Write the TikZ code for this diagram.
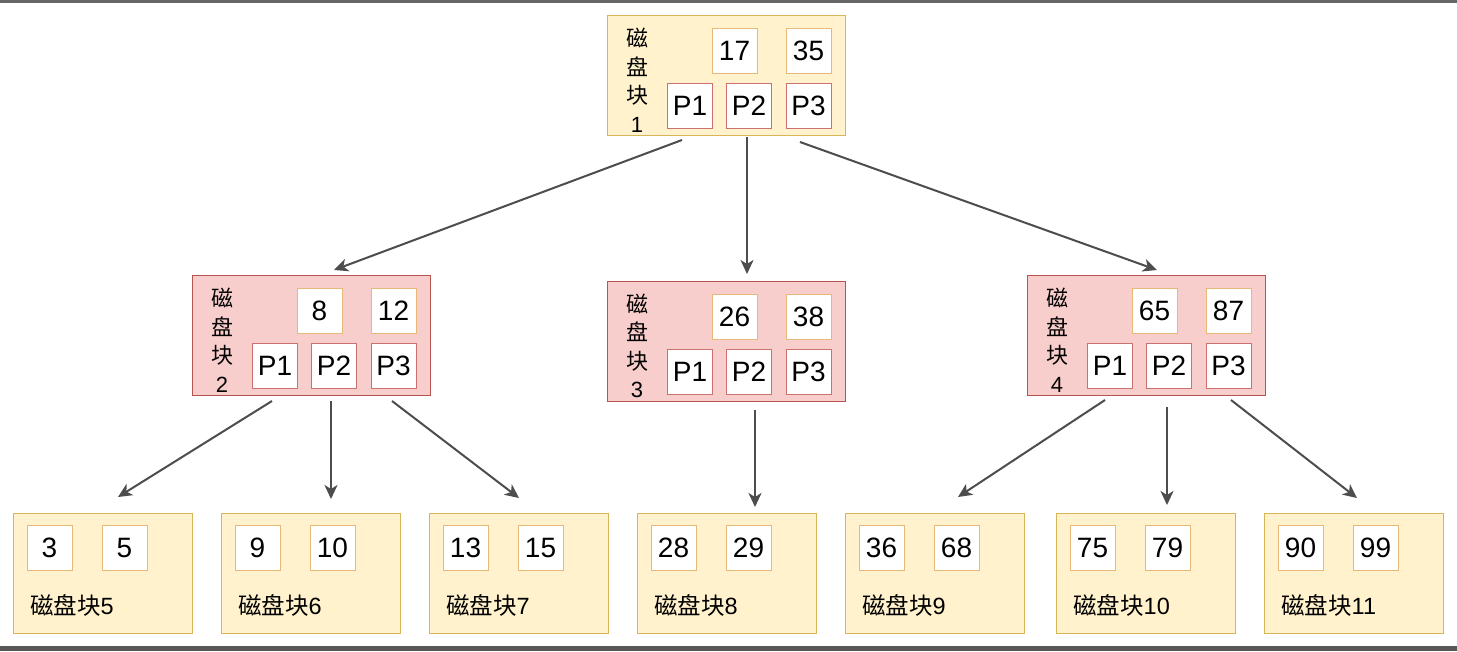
\documentclass[tikz,border=0pt]{standalone}
\usepackage{fontspec}
\setmainfont{Liberation Sans}
\newfontfamily\cjk{Noto Sans CJK SC}
\usetikzlibrary{arrows.meta}
\definecolor{yfill}{HTML}{FFF2CC}
\definecolor{ydraw}{HTML}{D6B656}
\definecolor{rfill}{HTML}{F8CECC}
\definecolor{rdraw}{HTML}{B85450}
\definecolor{kdraw}{HTML}{E8B878}
\definecolor{pdraw}{HTML}{CC7070}
\definecolor{arr}{HTML}{4D4D4D}
\definecolor{bar}{HTML}{666666}
\tikzset{
  x=1pt, y=-1pt,
  blk/.style={draw, line width=1pt, minimum width=238pt, minimum height=120pt, inner sep=0pt},
  yblk/.style={blk, fill=yfill, draw=ydraw},
  rblk/.style={blk, fill=rfill, draw=rdraw},
  leaf/.style={draw=ydraw, fill=yfill, line width=1pt, minimum width=179pt, minimum height=120pt, inner sep=0pt},
  cell/.style={fill=white, line width=1pt, minimum width=45pt, minimum height=45pt, inner sep=0pt, font=\fontsize{28}{28}\selectfont},
  key/.style={cell, draw=kdraw},
  ptr/.style={cell, draw=pdraw},
  vlab/.style={align=center, inner sep=0pt, font=\fontsize{22}{28.5}\selectfont},
  llab/.style={anchor=west, inner sep=0pt, font=\fontsize{23.5}{23.5}\selectfont},
  link/.style={draw=arr, line width=2pt, -{Stealth[length=14pt,width=13pt,inset=4pt]}},
}
\begin{document}
\begin{tikzpicture}
\useasboundingbox (0,0) rectangle (1457,651);
\fill[white] (0,0) rectangle (1457,651);
\fill[bar] (0,0) rectangle (1457,3);
\fill[bar!85!black] (0,646) rectangle (1457,651);

% internal blocks: name / left / top / fill style / keys / label
\foreach \n/\L/\T/\s/\ka/\kb/\lab in {n1/607/15/yblk/17/35/1, n2/192/275/rblk/8/12/2, n3/607/281/rblk/26/38/3, n4/1027/275/rblk/65/87/4}{
  \node[\s] (\n) at (\L+119,\T+60) {};
  \node[key] (\n ka) at (\L+127.5,\T+35.5) {\ka};
  \node[key] (\n kb) at (\L+201.5,\T+35.5) {\kb};
  \node[ptr] (\n p1) at (\L+83,\T+90.5) {P1};
  \node[ptr] (\n p2) at (\L+142,\T+90.5) {P2};
  \node[ptr] (\n p3) at (\L+201.5,\T+90.5) {P3};
  \node[vlab] (\n lab) at (\L+30,\T+65) {{\cjk 磁}\\{\cjk 盘}\\{\cjk 块}\\\lab};
}

% leaves
\foreach \n/\L/\ka/\kb/\lab in {n5/13/3/5/5, n6/221/9/10/6, n7/429/13/15/7, n8/637/28/29/8, n9/845/36/68/9, n10/1056/75/79/10, n11/1264/90/99/11}{
  \node[leaf] (\n) at (\L+89.5,573) {};
  \node[key] (\n ka) at (\L+36.5,548) {\ka};
  \node[key] (\n kb) at (\L+111.5,548) {\kb};
  \node[llab] (\n lab) at (\L+17,605) {{\cjk 磁盘块}\lab};
}

% connector end points
\coordinate (s12) at (682,140);  \coordinate (e12) at (334,270);
\coordinate (s13) at (747,137);  \coordinate (e13) at (747,274);
\coordinate (s14) at (800,142);  \coordinate (e14) at (1157,270);
\coordinate (s25) at (272,401);  \coordinate (e25) at (118,497);
\coordinate (s26) at (331,401);  \coordinate (e26) at (331,499);
\coordinate (s27) at (392,401);  \coordinate (e27) at (519,498);
\coordinate (s38) at (755,410);  \coordinate (e38) at (755,507);
\coordinate (s49) at (1105,400); \coordinate (e49) at (958,497);
\coordinate (s410) at (1167,407); \coordinate (e410) at (1167,505);
\coordinate (s411) at (1231,400); \coordinate (e411) at (1357,498);

\foreach \a in {12,13,14,25,26,27,38,49,410,411}{
  \draw[link] (s\a) -- (e\a);
}
\end{tikzpicture}
\end{document}
